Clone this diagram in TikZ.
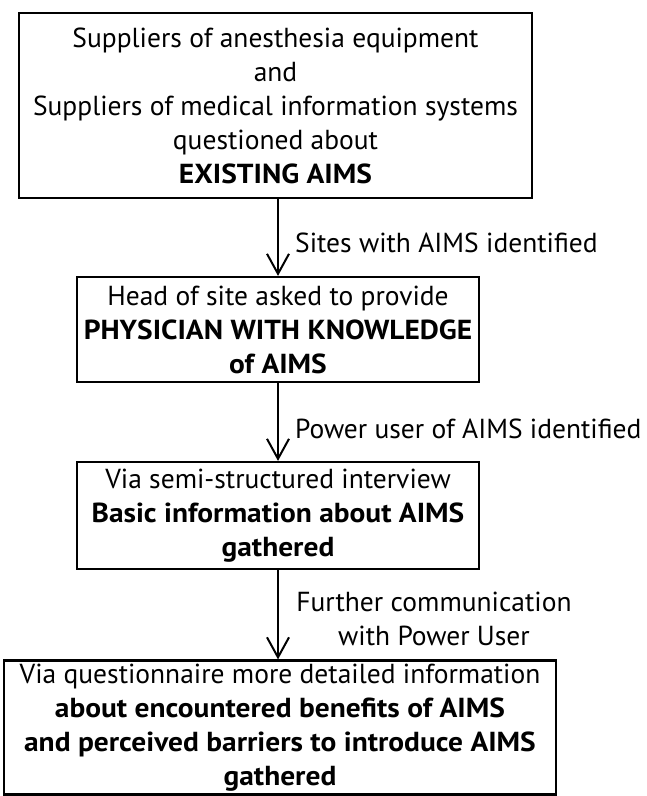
\documentclass[tikz,border=0pt]{standalone}
\usepackage{fontspec}
\setmainfont{PT Sans}[BoldFeatures={FakeStretch=1.07}]
\usetikzlibrary{arrows.meta,calc}
\tikzset{
  box/.style={draw=black, line width=2.2pt, align=center, inner sep=0pt,
    font=\fontsize{27.5}{34}\selectfont},
  lbl/.style={align=center, inner sep=0pt, font=\fontsize{27.5}{34}\selectfont},
  arr/.style={line width=2pt, -{Straight Barb[length=20pt,width=22pt,line width=2pt]}}
}
\begin{document}
\begin{tikzpicture}[x=1pt,y=-1pt]
\useasboundingbox (0,0) rectangle (646,796);
\node[box, minimum width=513pt, minimum height=185pt] (b1) at (275.5,105.5)
  {Suppliers of anesthesia equipment\\and\\Suppliers of medical information systems\\questioned about\\\textbf{EXISTING AIMS}};
\node[box, minimum width=402pt, minimum height=105pt] (b2) at (278,329.5)
  {Head of site asked to provide\\\textbf{PHYSICIAN WITH KNOWLEDGE}\\\textbf{of AIMS}};
\node[box, minimum width=402pt, minimum height=107pt] (b3) at (278,515.5)
  {Via semi-structured interview\\\textbf{Basic information about AIMS}\\\textbf{gathered}};
\node[box, minimum width=552pt, minimum height=134pt] (b4) at (280,727.5)
  {Via questionnaire more detailed information\\\textbf{about encountered benefits of AIMS}\\\textbf{and perceived barriers to introduce AIMS}\\\textbf{gathered}};
\draw[arr] (b2.north |- b1.south) -- (b2.north);
\draw[arr] (b2.south) -- (b3.north);
\draw[arr] (b3.south) -- (b3.south |- b4.north);
\node[lbl, anchor=west] (l1) at (295,243) {Sites with AIMS identified};
\node[lbl, anchor=west] (l2) at (295,429) {Power user of AIMS identified};
\node[lbl] (l3) at (434,618.5) {Further communication\\with Power User};
\end{tikzpicture}
\end{document}
